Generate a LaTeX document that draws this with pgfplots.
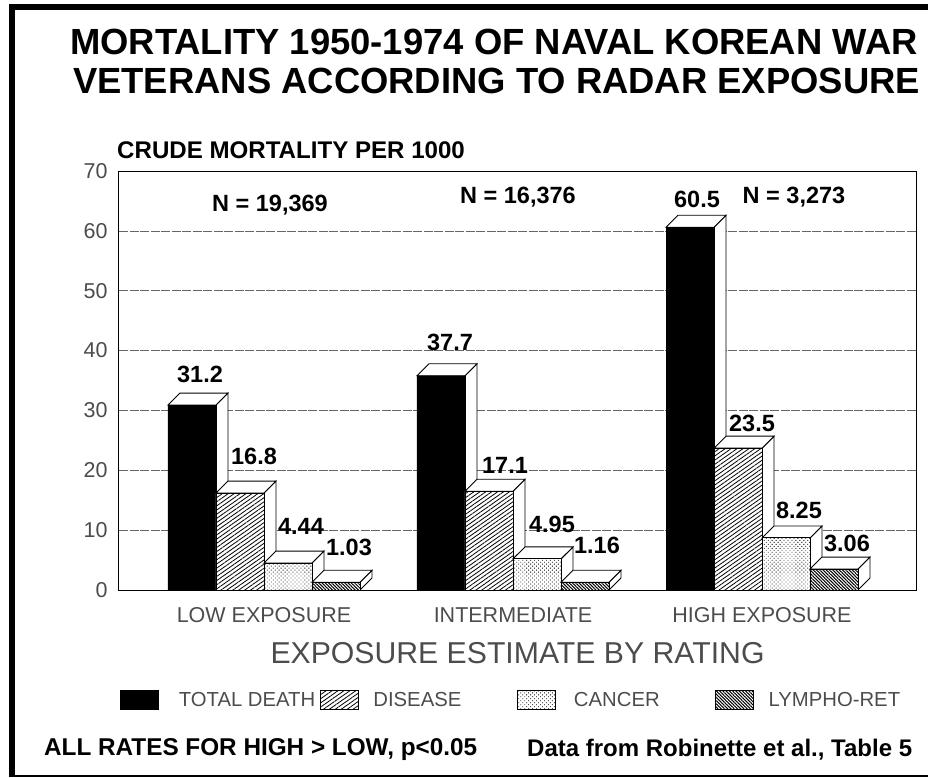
\documentclass[border=0pt]{standalone}
\usepackage{fontspec}
\setmainfont{Liberation Sans}
\usepackage{pgfplots}
\usepackage{pgfplotstable}
\pgfplotsset{compat=1.18}
\usetikzlibrary{patterns.meta}

\definecolor{thin}{gray}{0.3}
\newcommand\fs[1]{\fontsize{#1}{#1}\selectfont}

% heights as drawn on the page (printed labels are kept as text below)
\pgfplotstableread{
g total disease cancer lympho
0 30.9  16.2    4.5    1.3
1 35.8  16.5    5.2    1.3
2 60.6  23.7    8.7    3.5
}\heights

% side and top faces of one bar: group, bar number, column
\newcommand\faces[3]{%
  \pgfplotstablegetelem{#1}{#3}\of\heights
  \pgfmathsetmacro\ya{\pgfplotsretval}%
  \pgfmathsetmacro\yb{\ya+2}%
  \pgfmathsetmacro\xa{#1+(#2-2)*48/249}%
  \pgfmathsetmacro\xb{\xa+48/249}%
  \pgfmathsetmacro\xc{\xb+12/249}%
  \pgfmathsetmacro\xd{\xa+12/249}%
  \addplot[forget plot,draw=black,fill=white,line width=.9pt]
    coordinates {(\xb,0)(\xc,2)(\xc,\yb)(\xb,\ya)} -- cycle;
  \addplot[forget plot,draw=black,fill=white,line width=.9pt]
    coordinates {(\xa,\ya)(\xb,\ya)(\xc,\yb)(\xd,\yb)} -- cycle;
}
\newcommand\lab[4]{\node[#3] at ({(#1-119)*1pt},{(590-#2)*1pt}) {#4};}

\begin{document}
\begin{tikzpicture}
\useasboundingbox (-119pt,-188pt) rectangle (809pt,590pt);
% outer frame, open on the right
\fill[black] (-110pt,-186pt) rectangle (-104pt,586pt);
\fill[black] (-110pt,580pt) rectangle (809pt,586pt);
\fill[black] (-110pt,-187pt) rectangle (809pt,-185pt);

\begin{axis}[
  scale only axis, width=797pt, height=419pt,
  xmin=-0.5823, xmax=2.6185, ymin=0, ymax=70,
  ytick={0,10,...,70}, xtick={0,1,2},
  xticklabels={LOW EXPOSURE,INTERMEDIATE,HIGH EXPOSURE},
  major tick length=0pt,
  ymajorgrids, major grid style={black!60,line width=.5pt,dash pattern=on 9pt off 1.5pt},
  axis line style={black,line width=1pt},
  /pgf/number format/assume math mode=true,
  tick label style={font=\fs{21.5},text=thin},
  yticklabel style={xshift=-8pt},
  xticklabel style={yshift=-14pt},
  xlabel={EXPOSURE ESTIMATE BY RATING},
  xlabel style={font=\fs{30.2},text=thin,yshift=-13pt,xshift=0pt},
  legend style={draw=none,fill=none,at={(0.00125,-0.2625)},anchor=west,
    inner sep=0pt,nodes={inner sep=0pt},font=\fs{20.3},text=thin},
  legend columns=4,
  legend image code/.code={\draw[#1,line width=.6pt] (0pt,-9.5pt) rectangle (38pt,9.5pt);},
]
\faces{0}{0}{total}\faces{1}{0}{total}\faces{2}{0}{total}
\addplot[ybar,bar width=48pt,bar shift=-72pt,draw=black,fill=black]
  table[x=g,y=total] {\heights};
\addlegendentry{\hspace{20pt}\makebox[141pt][l]{TOTAL DEATH}}

\faces{0}{1}{disease}\faces{1}{1}{disease}\faces{2}{1}{disease}
% white under each pattern, so that nothing shows through it
\addplot[forget plot,ybar,bar width=48pt,bar shift=-24pt,draw=none,fill=white]
  table[x=g,y=disease] {\heights};
\addplot[ybar,bar width=48pt,bar shift=-24pt,draw=black,line width=.9pt,
  pattern={Lines[angle=35,distance=3.4pt,line width=.8pt]},pattern color=black]
  table[x=g,y=disease] {\heights};
\addlegendentry{\hspace{15pt}\makebox[144pt][l]{DISEASE}}

\faces{0}{2}{cancer}\faces{1}{2}{cancer}\faces{2}{2}{cancer}
\addplot[forget plot,ybar,bar width=48pt,bar shift=24pt,draw=none,fill=white]
  table[x=g,y=cancer] {\heights};
\addplot[ybar,bar width=48pt,bar shift=24pt,draw=black,line width=.9pt,
  pattern={Dots[angle=45,distance=2.8pt,radius=.6pt]},pattern color=black]
  table[x=g,y=cancer] {\heights};
\addlegendentry{\hspace{18pt}\makebox[141pt][l]{CANCER}}

\faces{0}{3}{lympho}\faces{1}{3}{lympho}\faces{2}{3}{lympho}
\addplot[forget plot,ybar,bar width=48pt,bar shift=72pt,draw=none,fill=white]
  table[x=g,y=lympho] {\heights};
\addplot[ybar,bar width=48pt,bar shift=72pt,draw=black,line width=.9pt,
  pattern={Lines[angle=-45,distance=2.3pt,line width=1pt]},pattern color=black]
  table[x=g,y=lympho] {\heights};
\addlegendentry{\hspace{15pt}\makebox[130pt][l]{LYMPHO-RET}}
\end{axis}

\tikzset{v/.style={font=\fs{23.5}\bfseries,inner sep=0pt},
         w/.style={anchor=west,inner sep=0pt}}
\lab{70}{42}{w,font=\fs{36.4}\bfseries}{MORTALITY 1950-1974 OF NAVAL KOREAN WAR}
\lab{73}{81}{w,font=\fs{36.4}\bfseries}{VETERANS ACCORDING TO RADAR EXPOSURE}
\lab{117}{150}{w,font=\fs{24.1}\bfseries}{CRUDE MORTALITY PER 1000}
\lab{270}{205}{v}{N = 19,369}
\lab{518}{197}{v}{N = 16,376}
\lab{794}{197}{v}{N = 3,273}
\lab{200}{374}{v}{31.2}
\lab{254}{456}{v}{16.8}
\lab{301}{526}{v}{4.44}
\lab{349}{547}{v}{1.03}
\lab{450}{342}{v}{37.7}
\lab{505}{465}{v}{17.1}
\lab{552}{524}{v}{4.95}
\lab{597}{545}{v}{1.16}
\lab{697}{199}{v}{60.5}
\lab{752}{423}{v}{23.5}
\lab{799}{510}{v}{8.25}
\lab{847}{543}{v}{3.06}
\lab{44}{750}{w,font=\fs{24.3}\bfseries}{ALL RATES FOR HIGH > LOW, p<0.05}
\lab{527}{750}{w,font=\fs{24}\bfseries}{Data from Robinette et al., Table 5}
\end{tikzpicture}
\end{document}
